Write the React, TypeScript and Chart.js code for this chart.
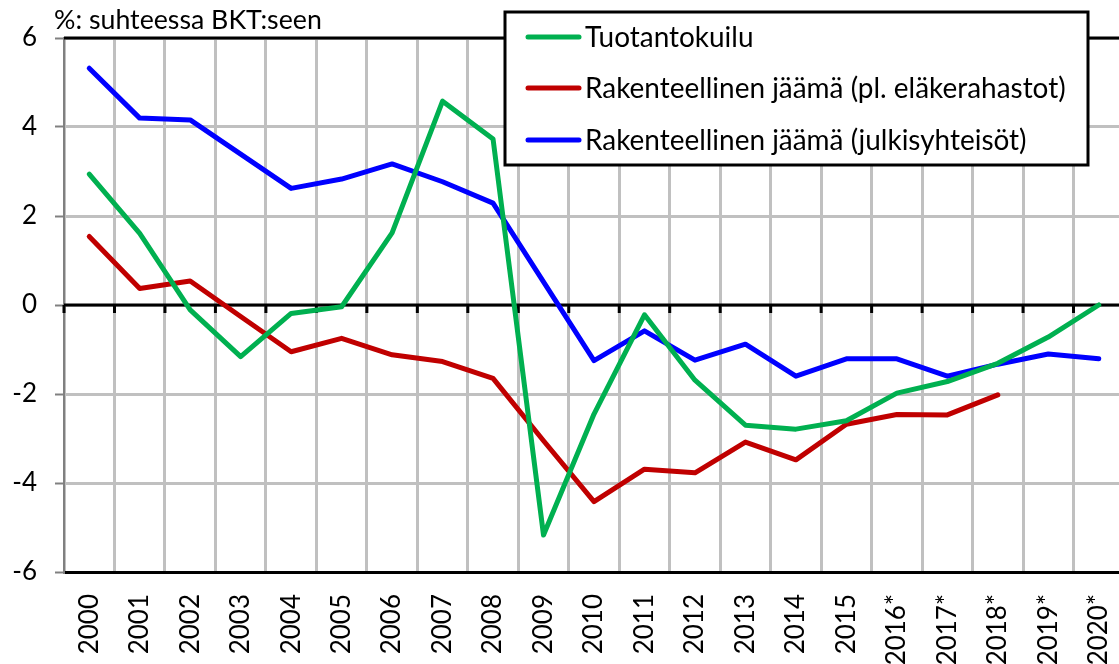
import React, { useEffect, useRef } from "react";
import { Chart, registerables } from "chart.js";

Chart.register(...registerables);

const years = [
  "2000", "2001", "2002", "2003", "2004", "2005", "2006", "2007", "2008", "2009",
  "2010", "2011", "2012", "2013", "2014", "2015", "2016*", "2017*", "2018*", "2019*", "2020*",
];

const tuotantokuilu = [
  2.94, 1.61, -0.11, -1.16, -0.19, -0.04, 1.62, 4.58, 3.73, -5.17,
  -2.45, -0.22, -1.69, -2.7, -2.79, -2.6, -1.98, -1.72, -1.31, -0.72, 0,
];

const jaamaPlElake = [
  1.54, 0.37, 0.54, -0.26, -1.05, -0.75, -1.12, -1.27, -1.65, -3.05,
  -4.42, -3.69, -3.77, -3.08, -3.48, -2.68, -2.46, -2.47, -2.02, null, null,
];

const jaamaJulki = [
  5.32, 4.2, 4.16, 3.39, 2.62, 2.83, 3.17, 2.77, 2.29, 0.52,
  -1.25, -0.58, -1.24, -0.88, -1.6, -1.21, -1.21, -1.6, -1.33, -1.1, -1.21,
];

const seriesLabels = [
  "Tuotantokuilu",
  "Rakenteellinen jäämä (pl. eläkerahastot)",
  "Rakenteellinen jäämä (julkisyhteisöt)",
];
const seriesColors = ["#00B050", "#C00000", "#0000FF"];
const yTitle = "%: suhteessa BKT:seen";

const FONT = "Lato, 'Open Sans', sans-serif";

function fitFont(ctx: CanvasRenderingContext2D, text: string, width: number) {
  ctx.font = `100px ${FONT}`;
  const w = ctx.measureText(text).width;
  return (100 * width) / w;
}

const decorPlugin = {
  id: "decor",
  beforeDatasetsDraw(chart: any) {
    const { ctx, chartArea: a, scales } = chart;
    const x = scales.x;
    const y = scales.y;
    ctx.save();
    ctx.strokeStyle = "#000";
    ctx.lineWidth = 3;
    ctx.beginPath();
    ctx.moveTo(a.left, a.top);
    ctx.lineTo(a.right, a.top);
    ctx.stroke();
    const y0 = y.getPixelForValue(0);
    ctx.beginPath();
    ctx.moveTo(a.left, y0);
    ctx.lineTo(a.right, y0);
    ctx.stroke();
    const n = years.length;
    const step = x.getPixelForValue(1) - x.getPixelForValue(0);
    for (let i = 0; i <= n; i++) {
      const px = x.getPixelForValue(0) - step / 2 + i * step;
      ctx.beginPath();
      ctx.moveTo(px, y0);
      ctx.lineTo(px, y0 + 8);
      ctx.stroke();
    }
    ctx.restore();
  },
  afterDraw(chart: any) {
    const { ctx } = chart;
    ctx.save();
    // axis title
    const ts = fitFont(ctx, yTitle, 268);
    ctx.font = `${ts}px ${FONT}`;
    ctx.fillStyle = "#000";
    ctx.textAlign = "left";
    ctx.textBaseline = "alphabetic";
    ctx.fillText(yTitle, 54, 29);

    // legend
    const bx = 505, by = 12, bw = 583, bh = 153;
    ctx.fillStyle = "#fff";
    ctx.fillRect(bx, by, bw, bh);
    ctx.strokeStyle = "#000";
    ctx.lineWidth = 3;
    ctx.strokeRect(bx, by, bw, bh);
    const ls = fitFont(ctx, seriesLabels[1], 481);
    const rows = [37, 88, 140];
    chart.data.datasets.forEach((ds: any, i: number) => {
      const cy = rows[i];
      ctx.strokeStyle = ds.borderColor;
      ctx.lineWidth = 5;
      ctx.lineCap = "round";
      ctx.beginPath();
      ctx.moveTo(528, cy);
      ctx.lineTo(579, cy);
      ctx.stroke();
      ctx.fillStyle = "#000";
      ctx.font = `${ls}px ${FONT}`;
      ctx.textBaseline = "middle";
      ctx.fillText(ds.label, 585, cy + 1);
    });
    ctx.restore();
  },
};

export default function App() {
  const ref = useRef<HTMLCanvasElement | null>(null);
  useEffect(() => {
    if (!ref.current) return;
    const datasets = [tuotantokuilu, jaamaPlElake, jaamaJulki].map((d, i) => ({
      label: seriesLabels[i],
      data: d,
      borderColor: seriesColors[i],
      backgroundColor: seriesColors[i],
      borderWidth: 5,
      pointRadius: 0,
      tension: 0,
      borderJoinStyle: "round" as const,
      borderCapStyle: "round" as const,
      spanGaps: false,
    }));
    const chart = new Chart(ref.current, {
      type: "line",
      data: { labels: years, datasets },
      options: {
        responsive: false,
        animation: false,
        devicePixelRatio: 1,
        layout: { padding: { top: 38, left: 0, right: 0, bottom: 0 } },
        plugins: { legend: { display: false }, tooltip: { enabled: false }, title: { display: false } },
        scales: {
          x: {
            type: "category",
            offset: true,
            grid: { offset: true, color: "#c0c0c0", lineWidth: 3, drawTicks: false },
            border: { display: true, color: "#000", width: 3 },
            ticks: {
              autoSkip: false,
              minRotation: 90,
              maxRotation: 90,
              padding: 22,
              color: "#000",
              font: { family: FONT, size: 26 },
            },
            afterFit(scale: any) {
              scale.height = 92;
              scale.paddingLeft = 0;
              scale.paddingRight = 0;
            },
          },
          y: {
            min: -6,
            max: 6,
            ticks: {
              stepSize: 2,
              padding: 18,
              color: "#000",
              font: { family: FONT, size: 26 },
            },
            grid: {
              color: "#c0c0c0",
              lineWidth: 3,
              tickColor: "#808080",
              tickWidth: 2,
              tickLength: 9,
            },
            border: { display: true, color: "#808080", width: 2 },
            afterFit(scale: any) {
              scale.width = 64;
            },
          },
        },
      },
      plugins: [decorPlugin],
    });
    return () => chart.destroy();
  }, []);
  return (
    <div
      style={{
        position: "fixed",
        left: 0,
        top: 0,
        width: 1119,
        height: 664,
        overflow: "hidden",
        background: "#fff",
      }}
    >
      <canvas ref={ref} width={1124} height={664} style={{ display: "block" }} />
    </div>
  );
}
